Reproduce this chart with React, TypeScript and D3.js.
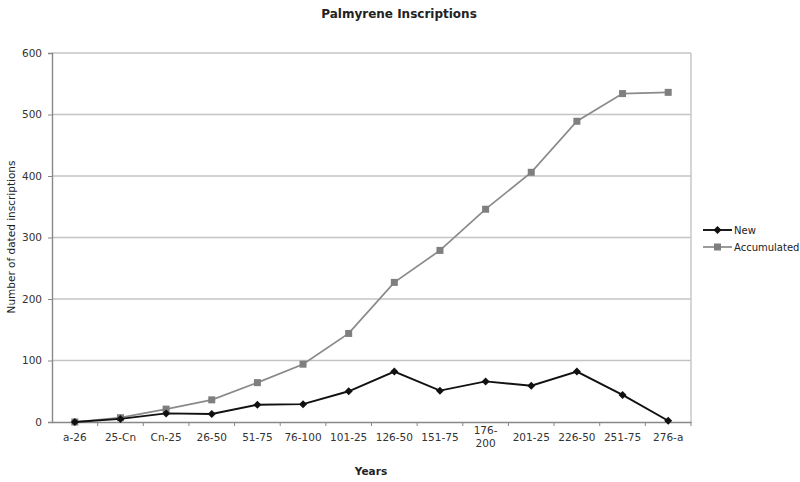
import { useEffect, useRef } from 'react';
import * as d3 from 'd3';

const periods = ['a-26', '25-Cn', 'Cn-25', '26-50', '51-75', '76-100', '101-25', '126-50', '151-75', '176-200', '201-25', '226-50', '251-75', '276-a'];
const newValues = [0, 5, 14, 13, 28, 29, 50, 82, 51, 66, 59, 82, 44, 2];
const accumulated = [0, 7, 21, 36, 64, 94, 144, 227, 279, 346, 406, 489, 534, 536];
const yTicks = [0, 100, 200, 300, 400, 500, 600];

const W = 800;
const H = 482;
const margin = { left: 52, right: 109, top: 53, bottom: 60 };
const font = '"DejaVu Sans", Verdana, sans-serif';

const App = () => {
  const ref = useRef<SVGSVGElement | null>(null);

  useEffect(() => {
    const svg = d3.select(ref.current);
    svg.selectAll('*').remove();

    const x = d3.scaleBand<string>()
      .domain(periods)
      .range([margin.left, W - margin.right]);
    const y = d3.scaleLinear()
      .domain([0, 600])
      .range([H - margin.bottom, margin.top]);

    // grid
    svg.append('g')
      .selectAll('line')
      .data(yTicks.slice(1))
      .join('line')
      .attr('x1', margin.left).attr('x2', W - margin.right)
      .attr('y1', d => y(d)).attr('y2', d => y(d))
      .attr('stroke', '#c4c4c4').attr('stroke-width', 1.4);

    // right border
    svg.append('line')
      .attr('x1', W - margin.right).attr('x2', W - margin.right)
      .attr('y1', y(600)).attr('y2', y(0))
      .attr('stroke', '#c4c4c4').attr('stroke-width', 1.4);

    // y axis
    const yAxis = svg.append('g')
      .attr('transform', `translate(${margin.left},0)`)
      .call(d3.axisLeft(y).tickValues(yTicks).tickSize(4).tickPadding(6));
    yAxis.select('.domain').attr('stroke', '#888').attr('stroke-width', 1.4);
    yAxis.selectAll('line').attr('stroke', '#888');
    yAxis.selectAll('text').attr('font-family', font).attr('font-size', 10.5).attr('fill', '#333');

    // x axis
    const xAxis = svg.append('g')
      .attr('transform', `translate(0,${y(0)})`)
      .call(d3.axisBottom(x).tickSize(0).tickPadding(12));
    xAxis.select('.domain').attr('stroke', '#888').attr('stroke-width', 1.4);
    xAxis.selectAll('text').attr('font-family', font).attr('font-size', 10.5).attr('fill', '#333')
      .each(function (d) {
        const label = d as string;
        if (label === '176-200') {
          const t = d3.select(this);
          t.text(null);
          t.append('tspan').attr('x', 0).attr('dy', 0).text('176-');
          t.append('tspan').attr('x', 0).attr('dy', '1.2em').text('200');
        }
      });
    // category separator ticks
    svg.append('g')
      .selectAll('line')
      .data(periods)
      .join('line')
      .attr('x1', d => (x(d) ?? 0) + x.bandwidth())
      .attr('x2', d => (x(d) ?? 0) + x.bandwidth())
      .attr('y1', y(0)).attr('y2', y(0) + 4)
      .attr('stroke', '#888');

    const cx = (i: number) => (x(periods[i]) ?? 0) + x.bandwidth() / 2;

    const line = d3.line<number>()
      .x((d, i) => cx(i))
      .y(d => y(d));

    // accumulated
    svg.append('path')
      .datum(accumulated)
      .attr('fill', 'none')
      .attr('stroke', '#8a8a8a')
      .attr('stroke-width', 1.7)
      .attr('d', line);
    svg.append('g')
      .selectAll('rect')
      .data(accumulated)
      .join('rect')
      .attr('x', (d, i) => cx(i) - 3.5)
      .attr('y', d => y(d) - 3.5)
      .attr('width', 7).attr('height', 7)
      .attr('fill', '#7f7f7f');

    // new
    svg.append('path')
      .datum(newValues)
      .attr('fill', 'none')
      .attr('stroke', '#111')
      .attr('stroke-width', 1.9)
      .attr('d', line);
    svg.append('g')
      .selectAll('path')
      .data(newValues)
      .join('path')
      .attr('transform', (d, i) => `translate(${cx(i)},${y(d)})`)
      .attr('d', 'M0,-4L4,0L0,4L-4,0Z')
      .attr('fill', '#111');

    // legend
    const lg = svg.append('g').attr('transform', `translate(703,230)`);
    lg.append('line').attr('x1', 0).attr('x2', 29).attr('y1', 0).attr('y2', 0)
      .attr('stroke', '#111').attr('stroke-width', 1.9);
    lg.append('path').attr('transform', 'translate(14.5,0)').attr('d', 'M0,-4L4,0L0,4L-4,0Z').attr('fill', '#111');
    lg.append('text').attr('x', 31).attr('y', 3.5).text('New')
      .attr('font-family', font).attr('font-size', 10).attr('fill', '#222');
    lg.append('line').attr('x1', 0).attr('x2', 29).attr('y1', 17).attr('y2', 17)
      .attr('stroke', '#8a8a8a').attr('stroke-width', 1.7);
    lg.append('rect').attr('x', 11).attr('y', 13.5).attr('width', 7).attr('height', 7).attr('fill', '#7f7f7f');
    lg.append('text').attr('x', 31).attr('y', 20.5).text('Accumulated')
      .attr('font-family', font).attr('font-size', 10).attr('fill', '#222');

    // titles
    svg.append('text')
      .attr('x', 399).attr('y', 18)
      .attr('text-anchor', 'middle')
      .attr('font-family', font).attr('font-size', 12).attr('font-weight', 'bold')
      .attr('fill', '#222')
      .text('Palmyrene Inscriptions');
    svg.append('text')
      .attr('x', 371).attr('y', 475)
      .attr('text-anchor', 'middle')
      .attr('font-family', font).attr('font-size', 10.5).attr('font-weight', 'bold')
      .attr('fill', '#222')
      .text('Years');
    svg.append('text')
      .attr('transform', 'translate(15,237) rotate(-90)')
      .attr('text-anchor', 'middle')
      .attr('font-family', font).attr('font-size', 10.5)
      .attr('fill', '#222')
      .text('Number of dated inscriptions');
  }, []);

  return (
    <svg ref={ref} width={W} height={H} style={{ position: 'absolute', left: 0, top: 0, background: '#fff' }} />
  );
};

export default App;
